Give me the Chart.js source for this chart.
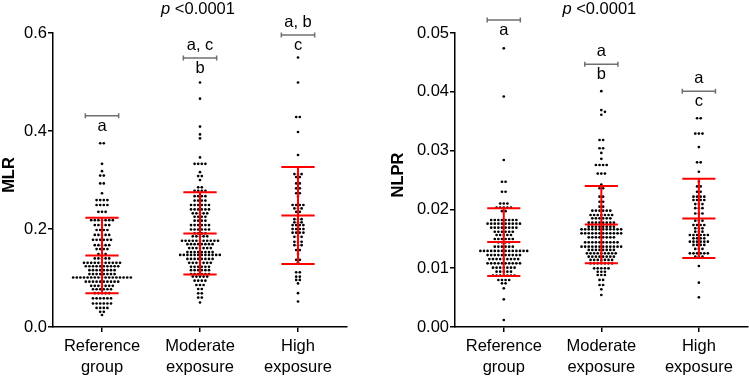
<!DOCTYPE html>
<html><head><meta charset="utf-8">
<script src="https://cdn.jsdelivr.net/npm/chart.js@4/dist/chart.umd.min.js"></script>
<style>
html,body{margin:0;padding:0;background:#fff;}
#wrap{display:flex;width:749px;height:378px;}
canvas{display:block;}
</style></head><body>
<div id="wrap">
<canvas id="c1" width="375" height="378"></canvas>
<canvas id="c2" width="374" height="378"></canvas>
</div>
<script>
// ---------- data ----------
const categories = [['Reference','group'],['Moderate','exposure'],['High','exposure']];
const pValueText = 'p <0.0001';

const mlrReference = [0.375,0.375,0.333,0.318,0.309,0.309,0.293,0.293,0.273,
0.259,0.259,0.259,0.259,0.249,0.249,0.249,0.249,0.235,0.235,0.235,
0.218,0.218,0.218,0.218,0.218,0.218,0.218,0.208,0.208,0.208,0.208,0.208,
0.198,0.198,0.198,0.198,0.188,0.188,0.188,0.188,0.188,
0.178,0.178,0.178,0.178,0.178,0.178,0.167,0.167,0.167,0.167,0.167,
0.159,0.159,0.159,0.159,0.149,0.149,0.149,0.140,0.140,0.140,0.140,0.140,
0.131,0.131,0.131,0.131,0.131,0.131,0.131,0.131,0.131,0.131,0.131,
0.124,0.124,0.124,0.124,0.124,0.124,0.124,0.124,0.124,0.124,
0.116,0.116,0.116,0.116,0.116,0.116,0.116,0.116,
0.108,0.108,0.108,0.108,0.108,0.108,0.108,0.108,
0.101,0.101,0.101,0.101,0.101,0.101,0.101,0.101,0.101,0.101,0.101,0.101,0.101,0.101,0.101,0.101,0.101,
0.0925,0.0925,0.0925,0.0925,0.0925,0.0925,0.0925,0.0925,0.0925,0.0925,
0.084,0.084,0.084,0.084,0.084,0.084,0.084,0.077,0.077,0.077,0.077,0.077,0.077,
0.069,0.069,0.069,0.069,0.069,0.0585,0.0585,0.0585,0.0585,0.0585,0.0585,
0.048,0.048,0.048,0.048,0.048,0.048,0.039,0.039,0.039,0.039,0.031,0.031,0.0245];

const mlrModerate = [0.499,0.466,0.409,0.393,0.385,0.346,0.333,0.333,0.333,0.333,
0.316,0.308,0.308,0.300,0.285,0.285,0.278,0.278,0.278,0.278,
0.267,0.267,0.267,0.267,0.258,0.258,0.258,0.258,
0.249,0.249,0.249,0.249,0.249,0.249,0.240,0.240,0.240,0.240,0.240,0.240,
0.232,0.232,0.232,0.232,0.232,0.225,0.225,0.225,0.225,0.217,0.217,0.217,0.217,
0.208,0.208,0.208,0.208,0.208,0.208,0.199,0.199,0.199,0.199,0.199,0.199,
0.191,0.191,0.191,0.191,0.185,0.185,0.185,0.185,0.185,
0.176,0.176,0.176,0.176,0.176,0.176,0.176,0.176,0.176,0.176,0.176,
0.169,0.169,0.169,0.169,0.169,0.169,0.169,0.169,
0.161,0.161,0.161,0.161,0.161,0.161,0.161,
0.153,0.153,0.153,0.153,0.153,0.153,0.153,0.153,
0.147,0.147,0.147,0.147,0.147,0.147,0.147,0.147,0.147,0.147,0.147,0.147,
0.139,0.139,0.139,0.139,0.139,0.139,0.139,0.139,
0.131,0.131,0.131,0.131,0.131,0.131,0.131,0.123,0.123,0.123,0.123,0.123,0.123,
0.116,0.116,0.116,0.116,0.116,0.116,0.108,0.108,0.108,0.108,0.108,0.108,
0.103,0.103,0.103,0.103,0.103,0.0945,0.0945,0.0945,0.0945,0.0857,0.0857,0.0857,
0.0776,0.0776,0.0687,0.0687,0.060,0.060,0.050];

const mlrHigh = [0.550,0.499,0.4286,0.4286,0.398,0.351,0.312,0.312,0.312,0.306,0.306,
0.293,0.293,0.283,0.283,0.273,0.273,0.266,0.249,0.249,0.249,0.249,0.242,0.242,0.242,
0.235,0.235,0.220,0.220,0.220,0.2136,0.2136,0.2136,0.208,0.208,0.208,0.208,
0.200,0.200,0.200,0.200,0.1925,0.1925,0.1925,0.1925,0.184,0.184,0.184,
0.174,0.174,0.174,0.167,0.167,0.167,0.157,0.157,0.149,0.137,0.137,0.132,
0.1116,0.1116,0.1027,0.1027,0.096,0.096,0.089,0.069,0.052];

const nlprReference = [0.0474,0.0392,0.0284,0.0247,0.0247,0.0230,0.0230,0.0210,0.0210,0.0210,
0.0203,0.0203,0.0203,0.0203,0.0203,0.0197,0.0197,
0.0182,0.0182,0.0182,0.0182,0.0182,0.0182,0.0182,0.0182,
0.01757,0.01757,0.01757,0.01757,0.01757,0.01757,0.01757,0.01757,0.01757,0.01757,
0.01689,0.01689,0.01689,0.01689,0.01689,0.01689,0.01689,0.01689,
0.0162,0.0162,0.0162,0.0162,0.0162,0.0162,0.01565,0.01565,0.01565,0.01565,0.01565,
0.01497,0.01497,0.01497,0.01497,0.01497,0.01497,0.0144,0.0144,0.0144,0.0144,
0.01366,0.01366,0.01366,0.01366,0.01366,0.01366,
0.01293,0.01293,0.01293,0.01293,0.01293,0.01293,0.01293,0.01293,0.01293,0.01293,0.01293,0.01293,0.01293,0.01293,
0.01224,0.01224,0.01224,0.01224,0.01224,0.01224,0.01224,0.01224,0.01224,0.01224,
0.01156,0.01156,0.01156,0.01156,0.01156,0.01156,0.01156,0.01156,0.01156,
0.01083,0.01083,0.01083,0.01083,0.01083,0.01083,0.01083,0.01083,0.01083,0.01083,
0.01009,0.01009,0.01009,0.01009,0.01009,0.01009,0.01009,
0.00941,0.00941,0.00941,0.00941,0.00941,
0.00873,0.00873,0.00873,0.00873,0.00873,0.00873,0.00873,
0.00799,0.00799,0.00799,0.00799,0.00743,0.00743,0.00658,0.0047,0.00119];

const nlprModerate = [0.0401,0.0369,0.0366,0.0361,0.0318,0.0318,0.0304,0.0304,0.0296,0.0286,
0.02755,0.02755,0.02755,0.02755,0.0261,0.0261,0.0261,0.0242,0.0236,0.0236,
0.02217,0.02217,0.0213,0.0213,0.02046,0.02046,
0.01978,0.01978,0.01978,0.01978,0.01978,0.01978,
0.01905,0.01905,0.01905,0.01905,0.01905,0.01905,0.01905,
0.01848,0.01848,0.01848,0.01848,0.01848,0.01848,
0.01774,0.01774,0.01774,0.01774,0.01774,0.01774,0.01774,0.01774,
0.01706,0.01706,0.01706,0.01706,0.01706,0.01706,0.01706,0.01706,
0.01661,0.01661,0.01661,0.01661,0.01661,0.01661,0.01661,0.01661,0.01661,0.01661,0.01661,0.01661,
0.01593,0.01593,0.01593,0.01593,0.01593,0.01593,0.01593,0.01593,0.01593,0.01593,0.01593,0.01593,
0.01525,0.01525,0.01525,0.01525,0.01525,0.01525,0.01525,0.01525,
0.0144,0.0144,0.0144,0.0144,0.0144,0.0144,0.0144,0.0144,0.0144,0.0144,
0.01366,0.01366,0.01366,0.01366,0.01366,0.01366,0.01366,0.01366,0.01366,0.01366,0.01366,0.01366,
0.0131,0.0131,0.0131,0.0131,0.0131,0.0131,0.0131,0.0131,
0.01253,0.01253,0.01253,0.01253,0.01253,0.01253,0.01253,0.01253,0.01253,
0.01196,0.01196,0.01196,0.01196,0.01196,0.01196,0.01196,0.01196,
0.0114,0.0114,0.0114,0.0114,0.0114,0.0114,0.0114,
0.01083,0.01083,0.01083,0.01083,0.01083,0.01083,0.01083,
0.00998,0.00998,0.00998,0.00998,0.00998,0.0094,0.0094,0.0094,0.00884,0.00884,0.00884,
0.008,0.008,0.00714,0.00714,0.0064,0.00544];

const nlprHigh = [0.0355,0.0355,0.0329,0.0329,0.0329,0.0306,0.0280,0.0280,0.0264,0.0247,
0.0239,0.0239,0.0230,0.0230,0.02217,0.02217,0.02217,0.02217,0.0216,0.0216,0.0216,0.0216,
0.0209,0.0209,0.0209,0.0202,0.0202,0.0202,0.0193,0.0193,0.0193,
0.01808,0.01808,0.01808,0.01735,0.01735,0.01735,0.01735,0.01678,0.01678,0.01678,
0.01621,0.01621,0.01621,0.01565,0.01565,0.01565,0.01565,0.01565,0.01565,
0.01508,0.01508,0.01508,0.01508,0.01451,0.01451,0.01451,0.01451,0.01451,0.01451,
0.01395,0.01395,0.01395,0.01395,0.01327,0.01327,0.01327,
0.01253,0.01253,0.01253,0.01253,0.01253,0.01253,0.01196,0.01196,0.01196,
0.01037,0.00754,0.00505];

// mean and SD per group
const mlrMeans = [0.146, 0.191, 0.2276];
const mlrSDs = [0.077, 0.084, 0.099];
const nlprMeans = [0.01444, 0.01742, 0.01847];
const nlprSDs = [0.00577, 0.00658, 0.00674];

// significance brackets and letters
const mlrBrackets = [0.431, 0.549, 0.596];
const mlrAbove = ['', 'a, c', 'a, b'];
const mlrBelow = ['a', 'b', 'c'];
const nlprBrackets = [0.0522, 0.0447, 0.0401];
const nlprAbove = ['', 'a', 'a'];
const nlprBelow = ['a', 'b', 'c'];

const mlrTicks = [0, 0.2, 0.4, 0.6];
const nlprTicks = [0, 0.01, 0.02, 0.03, 0.04, 0.05];

// ---------- drawing ----------
const FONT = '"Liberation Sans", Arial, Helvetica, sans-serif';
const FS = 16.5;
const HALF = 0.17;

// Prism-like swarm: equal values form a centred row; close values get staggered
function swarmOffsets(values, yScale, sx, sy) {
  const rows = new Map();
  values.forEach((v, i) => { if (!rows.has(v)) rows.set(v, []); rows.get(v).push(i); });
  const rowList = [...rows.entries()].map(([v, idx]) => ({v, idx, py: yScale.getPixelForValue(v)}));
  rowList.sort((a, b) => a.py - b.py);
  const placed = [];
  const out = new Array(values.length);
  for (const r of rowList) {
    const near = placed.filter(q => Math.abs(q.py - r.py) < sy);
    const n = r.idx.length;
    const centred = r.idx.map((_, k) => (k - (n - 1) / 2) * sx);
    const fits = near.every(q => centred.every(c => Math.abs(c - q.x) >= sx - 1e-6));
    if (fits) {
      r.idx.forEach((ii, k) => { out[ii] = centred[k]; placed.push({py: r.py, x: centred[k]}); });
      continue;
    }
    for (const ii of r.idx) {
      const nb = placed.filter(q => Math.abs(q.py - r.py) < sy);
      const cands = [0];
      for (const q of nb) cands.push(q.x + sx, q.x - sx);
      cands.sort((a, b) => Math.abs(a) - Math.abs(b) || b - a);
      let best = 0;
      for (const c of cands) {
        if (nb.every(q => Math.abs(c - q.x) >= sx - 1e-6)) { best = c; break; }
      }
      out[ii] = best; placed.push({py: r.py, x: best});
    }
  }
  return out;
}

const annotPlugin = {
  id: 'annot',
  afterDraw(chart, args, o) {
    const ctx = chart.ctx, xs = chart.scales.x, ys = chart.scales.y, ca = chart.chartArea;
    ctx.save();
    o.brackets.forEach((b, i) => {
      const x0 = xs.getPixelForValue(i - HALF), x1 = xs.getPixelForValue(i + HALF);
      const xc = xs.getPixelForValue(i);
      const y = ys.getPixelForValue(b);
      ctx.strokeStyle = '#707070'; ctx.lineWidth = 1.5;
      ctx.beginPath();
      ctx.moveTo(x0, y); ctx.lineTo(x1, y);
      ctx.moveTo(x0, y - 2.5); ctx.lineTo(x0, y + 2.5);
      ctx.moveTo(x1, y - 2.5); ctx.lineTo(x1, y + 2.5);
      ctx.stroke();
      ctx.fillStyle = '#000'; ctx.font = FS + 'px ' + FONT;
      ctx.textAlign = 'center'; ctx.textBaseline = 'alphabetic';
      if (o.above[i]) ctx.fillText(o.above[i], xc, y - 8);
      if (o.below[i]) ctx.fillText(o.below[i], xc, y + 15);
    });
    ctx.fillStyle = '#000';
    ctx.textAlign = 'left'; ctx.textBaseline = 'alphabetic';
    const pPart = pValueText.slice(0, 1), rest = pValueText.slice(1);
    ctx.font = 'italic ' + FS + 'px ' + FONT;
    const w1 = ctx.measureText(pPart).width;
    ctx.font = FS + 'px ' + FONT;
    const w2 = ctx.measureText(rest).width;
    const cx = (ca.left + ca.right) / 2 - 2;
    const tx = cx - (w1 + w2) / 2;
    ctx.font = 'italic ' + FS + 'px ' + FONT;
    ctx.fillText(pPart, tx, 14);
    ctx.font = FS + 'px ' + FONT;
    ctx.fillText(rest, tx + w1, 14);
    ctx.translate(o.titleX, 175);
    ctx.rotate(-Math.PI / 2);
    ctx.font = 'bold ' + FS + 'px ' + FONT;
    ctx.textAlign = 'center'; ctx.textBaseline = 'middle';
    ctx.fillText(o.title, 0, 0);
    ctx.restore();
  }
};

function makePanel(id, cfg) {
  const datasets = [];
  const seg = [];
  cfg.means.forEach((m, i) => {
    const lo = m - cfg.sds[i], hi = m + cfg.sds[i];
    seg.push({x: i - HALF, y: hi}, {x: i + HALF, y: hi}, {x: null, y: null},
             {x: i - HALF, y: m}, {x: i + HALF, y: m}, {x: null, y: null},
             {x: i - HALF, y: lo}, {x: i + HALF, y: lo}, {x: null, y: null},
             {x: i, y: hi}, {x: i, y: lo}, {x: null, y: null});
  });
  datasets.push({
    data: seg, showLine: true, spanGaps: false, borderColor: '#ff0000', borderWidth: 2,
    pointRadius: 0, order: 0, clip: false
  });
  cfg.groups.forEach((vals, gi) => {
    datasets.push({
      data: vals.map(v => ({x: gi, y: v})), pointRadius: 1.35, pointHoverRadius: 1.35,
      backgroundColor: '#000', borderWidth: 0, showLine: false, order: 1
    });
  });
  const axisFont = {family: FONT, size: FS};
  const chart = new Chart(document.getElementById(id), {
    type: 'scatter',
    data: {datasets},
    options: {
      responsive: false, animation: false, devicePixelRatio: 1, events: [],
      layout: {padding: {top: 33, right: cfg.rightPad, bottom: 0, left: 0}},
      plugins: {legend: {display: false}, tooltip: {enabled: false},
        annot: {brackets: cfg.brackets, above: cfg.above, below: cfg.below, title: cfg.title, titleX: cfg.titleX}},
      scales: {
        x: {
          type: 'linear', min: -0.5, max: 2.5,
          afterBuildTicks: s => { s.ticks = categories.map((c, i) => ({value: i})); },
          ticks: {callback: v => categories[v], color: '#000', font: {...axisFont, lineHeight: 1.27}, padding: 4, maxRotation: 0, autoSkip: false},
          grid: {display: true, drawOnChartArea: false, drawTicks: true, tickLength: 5, color: '#000', lineWidth: 1.5},
          border: {display: true, color: '#000', width: 1.5},
          afterFit: s => { s.height = 51; }
        },
        y: {
          min: cfg.ticks[0], max: cfg.ticks[cfg.ticks.length - 1],
          afterBuildTicks: s => { s.ticks = cfg.ticks.map(v => ({value: v})); },
          ticks: {callback: v => v.toFixed(cfg.dec), color: '#000', font: axisFont, padding: 1},
          grid: {display: true, drawOnChartArea: false, drawTicks: true, tickLength: 5, color: '#000', lineWidth: 1.5},
          border: {display: true, color: '#000', width: 1.5},
          afterFit: s => { s.width = cfg.yWidth; }
        }
      }
    },
    plugins: [annotPlugin]
  });
  const xs = chart.scales.x, ys = chart.scales.y;
  const pxPerUnit = xs.getPixelForValue(1) - xs.getPixelForValue(0);
  cfg.groups.forEach((vals, gi) => {
    const offs = swarmOffsets(vals, ys, 3.6, 2.4);
    chart.data.datasets[gi + 1].data = vals.map((v, k) => ({x: gi + offs[k] / pxPerUnit, y: v}));
  });
  chart.update('none');
  return chart;
}

makePanel('c1', {
  groups: [mlrReference, mlrModerate, mlrHigh], means: mlrMeans, sds: mlrSDs,
  brackets: mlrBrackets, above: mlrAbove, below: mlrBelow, ticks: mlrTicks, dec: 1,
  title: 'MLR', titleX: 9, yWidth: 53, rightPad: 28
});
makePanel('c2', {
  groups: [nlprReference, nlprModerate, nlprHigh], means: nlprMeans, sds: nlprSDs,
  brackets: nlprBrackets, above: nlprAbove, below: nlprBelow, ticks: nlprTicks, dec: 2,
  title: 'NLPR', titleX: 23, yWidth: 80, rightPad: 1
});
</script>
</body></html>
